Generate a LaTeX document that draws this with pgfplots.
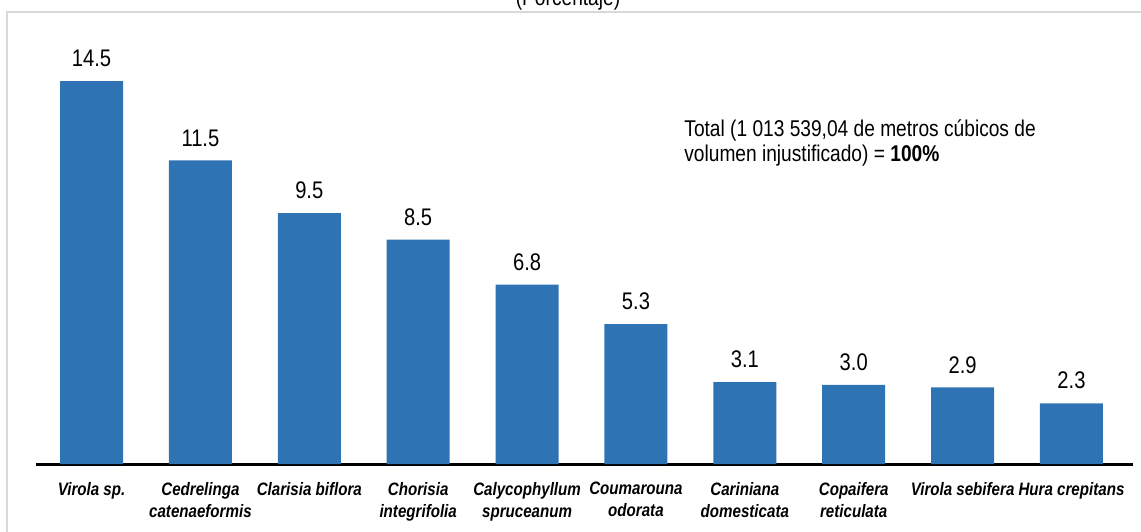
\documentclass[border=0pt]{standalone}
\usepackage{pgfplots}
\pgfplotsset{compat=1.18}
\usepackage{fontspec}
\setmainfont{Liberation Sans}[FakeStretch=0.84]
\definecolor{barblue}{RGB}{46,116,181}
\begin{document}
\begin{tikzpicture}
\useasboundingbox (0,0) rectangle (570.5pt,265.5pt);
\draw[black!15, line width=1pt] (3.5pt,-5pt) rectangle (580pt,259.5pt);
\node[anchor=base, font=\fontsize{11.4}{13}\selectfont, inner sep=0] at (284pt,262.5pt) {(Porcentaje)};
\begin{axis}[
  at={(18pt,33.5pt)}, anchor=south west,
  scale only axis, width=548.5pt, height=222pt,
  xmin=-0.51, xmax=9.565, ymin=0, ymax=16.82,
  axis x line=bottom, axis y line=none,
  x axis line style={line width=1.5pt, -},
  ytick=\empty,
  xtick=data, major tick length=0pt,
  xticklabels={{Virola sp.},{Cedrelinga\\catenaeformis},{Clarisia biflora},{Chorisia\\integrifolia},{Calycophyllum\\spruceanum},{Coumarouna\\odorata},{Cariniana\\domesticata},{Copaifera\\reticulata},{Virola sebifera},{Hura crepitans}},
  xticklabel style={align=center, font=\bfseries\itshape\fontsize{9}{11}\selectfont, yshift=-5.5pt},
  ybar, bar width=31.5pt,
  /pgf/number format/assume math mode=true,
  nodes near coords,
  nodes near coords style={font=\fontsize{12}{14}\selectfont, yshift=3.5pt, /pgf/number format/.cd, fixed, fixed zerofill, precision=1},
  clip=false,
]
\addplot[fill=barblue, draw=none] coordinates {(0,14.5) (1,11.5) (2,9.5) (3,8.5) (4,6.8) (5,5.3) (6,3.1) (7,3.0) (8,2.9) (9,2.3)};
\end{axis}
\node[anchor=north west, align=left, inner sep=0, font=\fontsize{11.4}{12.5}\selectfont] at (342pt,206pt) {Total (1 013 539,04 de metros cúbicos de\\volumen injustificado) = \textbf{100\%}};
\end{tikzpicture}
\end{document}
